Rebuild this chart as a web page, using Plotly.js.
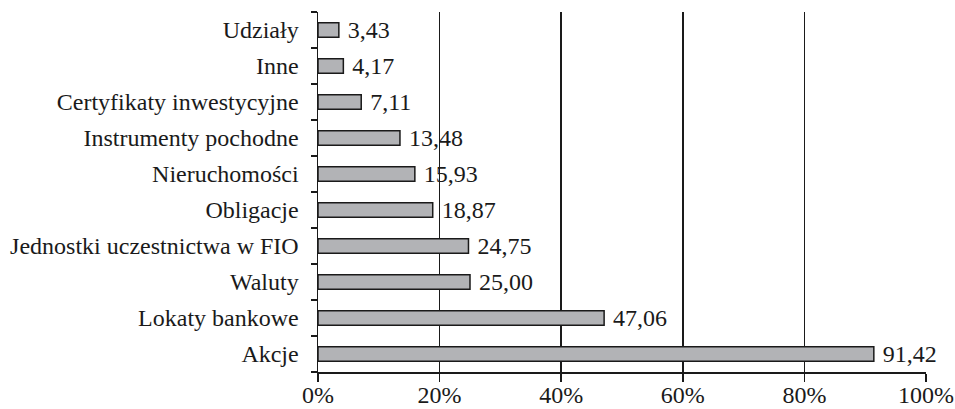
<!DOCTYPE html>
<html><head><meta charset="utf-8">
<script src="https://cdn.plot.ly/plotly-3.0.1.min.js"></script>
<style>body{margin:0;background:#fff}#c{width:955px;height:409px}</style>
</head><body><div id="c"></div>
<script>
const categories = ["Akcje","Lokaty bankowe","Waluty","Jednostki uczestnictwa w FIO","Obligacje","Nieruchomości","Instrumenty pochodne","Certyfikaty inwestycyjne","Inne","Udziały"];
const values = [91.42,47.06,25.00,24.75,18.87,15.93,13.48,7.11,4.17,3.43];
const tickVals = [0,20,40,60,80,100];
const tickText = ["0%","20%","40%","60%","80%","100%"];
const labels = values.map(v => '\u00a0' + v.toFixed(2).replace('.', ','));
const font = {family:"Liberation Serif, Times New Roman, serif", size:24, color:"#1a1a1a"};
Plotly.newPlot('c', [{
  type:'bar', orientation:'h', x:values, y:categories, width:0.4,
  marker:{color:'#b2b3b6', line:{color:'#1a1a1a', width:1.5}},
  text:labels, textposition:'outside', cliponaxis:false, constraintext:'none',
  textfont:font, hoverinfo:'none'
}], {
  width:955, height:409, margin:{l:318,r:29,t:12,b:37},
  paper_bgcolor:'#fff', plot_bgcolor:'#fff', showlegend:false, font:font,
  xaxis:{range:[0,100], tickvals:tickVals, ticktext:tickText, showgrid:true, gridcolor:'#1a1a1a', gridwidth:1.5,
    showline:true, linecolor:'#1a1a1a', linewidth:1.5, ticks:'outside', ticklen:8, ticklabelstandoff:-7, tickcolor:'#1a1a1a', tickwidth:1.5, zeroline:false, tickfont:font, fixedrange:true},
  yaxis:{type:'category', showline:true, linecolor:'#1a1a1a', linewidth:1.5, ticks:'outside', tickson:'boundaries', ticklen:6,
    ticklabelstandoff:13, tickcolor:'#1a1a1a', tickwidth:1.5, showgrid:false, tickfont:font, fixedrange:true},
  bargap:0.6
}, {staticPlot:true});
</script></body></html>
